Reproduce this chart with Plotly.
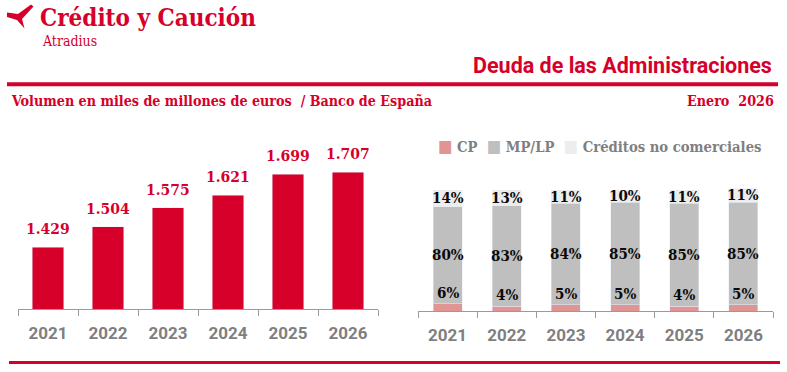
import plotly.graph_objects as go

years = ["2021", "2022", "2023", "2024", "2025", "2026"]
volumen = [1429, 1504, 1575, 1621, 1699, 1707]
volumen_labels = ["1.429", "1.504", "1.575", "1.621", "1.699", "1.707"]
cp = [6, 4, 5, 5, 4, 5]
mplp = [80, 83, 84, 85, 85, 85]
no_com = [14, 13, 11, 10, 11, 11]
series_names = ["CP", "MP/LP", "Créditos no comerciales"]

W, H = 787, 372
RED = "#D6002A"
GRAY_TXT = "#7F7F7F"
C_CP = "#E09494"
C_MP = "#BFBFBF"
C_NC = "#EDEDED"
series_colors = [C_CP, C_MP, C_NC]
SERIF = "DejaVu Serif Condensed, DejaVu Serif, serif"
SANS = "Roboto, Open Sans, sans-serif"


def px(x):
    return x / W


def py(y):
    return 1 - y / H


fig = go.Figure()

# Left chart: volume
fig.add_trace(go.Bar(x=years, y=volumen, marker_color=RED, width=0.52,
                     xaxis="x", yaxis="y", showlegend=False, hoverinfo="skip"))

# Right chart: stacked composition
for name, vals, col in zip(series_names, [cp, mplp, no_com], series_colors):
    fig.add_trace(go.Bar(x=years, y=vals, name=name, marker_color=col, width=0.49,
                         xaxis="x2", yaxis="y2", hoverinfo="skip", cliponaxis=False,
                         showlegend=False))

annotations = []
# value labels above left bars (x as category index)
for i, (v, lab) in enumerate(zip(volumen, volumen_labels)):
    annotations.append(dict(x=i, y=v, xref="x", yref="y", text=lab, showarrow=False,
                            yanchor="bottom", yshift=7,
                            font=dict(family=SERIF, size=15.5, color=RED, weight="bold")))
# percentage labels
lab_font = dict(family=SERIF, size=15, color="#0A0A0A", weight="bold")
for i, (a, b, c) in enumerate(zip(cp, mplp, no_com)):
    annotations.append(dict(x=i, y=a, xref="x2", yref="y2", text=f"{a}%", showarrow=False,
                            yanchor="bottom", yshift=0, font=lab_font))
    annotations.append(dict(x=i, y=a + b / 2, xref="x2", yref="y2", text=f"{b}%",
                            showarrow=False, yanchor="middle", font=lab_font))
    annotations.append(dict(x=i, y=a + b + c / 2, xref="x2", yref="y2", text=f"{c}%",
                            showarrow=False, yanchor="middle", font=lab_font))

# custom legend
legend_text = "&nbsp;&nbsp;".join(
    f"<span style='color:{col};font-size:17px'>■</span> {name}"
    for name, col in zip(series_names, series_colors))
annotations.append(dict(x=px(436), y=py(146), xref="paper", yref="paper", xanchor="left",
                        yanchor="middle", text=legend_text, showarrow=False,
                        font=dict(family=SERIF, size=14.7, color=GRAY_TXT, weight="bold")))

# Header texts
annotations += [
    dict(x=px(38), y=py(18), xref="paper", yref="paper", xanchor="left", yanchor="middle",
         text="Crédito y Caución", showarrow=False,
         font=dict(family=SERIF, size=24, color=RED, weight="bold")),
    dict(x=px(40), y=py(41), xref="paper", yref="paper", xanchor="left", yanchor="middle",
         text="Atradius", showarrow=False,
         font=dict(family=SERIF, size=14, color=RED)),
    dict(x=px(774), y=py(65), xref="paper", yref="paper", xanchor="right", yanchor="middle",
         text="Deuda de las Administraciones", showarrow=False,
         font=dict(family=SANS, size=21.5, color=RED, weight="bold")),
    dict(x=px(9), y=py(101), xref="paper", yref="paper", xanchor="left", yanchor="middle",
         text="Volumen en miles de millones de euros  / Banco de España", showarrow=False,
         font=dict(family=SERIF, size=14.2, color=RED, weight="bold")),
    dict(x=px(776), y=py(101), xref="paper", yref="paper", xanchor="right", yanchor="middle",
         text="Enero  2026", showarrow=False,
         font=dict(family=SERIF, size=14.2, color=RED, weight="bold")),
]

# Logo icon path (paper coords)
pts = [(7, 12.5), (18, 14), (31, 4.5), (33.5, 6.5), (22, 19), (24.5, 28.5), (17, 20), (7, 17)]
path = "M " + " L ".join(f"{px(x):.5f},{py(y):.5f}" for x, y in pts) + " Z"

shapes = [
    dict(type="path", path=path, xref="paper", yref="paper", fillcolor=RED, line_width=0),
    dict(type="line", xref="paper", yref="paper", x0=px(7), x1=px(778), y0=py(84.3), y1=py(84.3),
         line=dict(color=RED, width=4)),
    dict(type="line", xref="paper", yref="paper", x0=px(9), x1=px(780), y0=py(362.5), y1=py(362.5),
         line=dict(color=RED, width=3)),
]

xaxis_common = dict(type="category", range=[-0.5, 5.5], tickson="boundaries", ticks="outside",
                    ticklen=6, tickcolor="#9A9A9A", showline=True, linecolor="#9A9A9A",
                    linewidth=1, showgrid=False, zeroline=False, fixedrange=True,
                    ticklabelstandoff=9,
                    tickfont=dict(family=SANS, size=17, color=GRAY_TXT, weight="bold"))
yaxis_common = dict(visible=True, showticklabels=False, showgrid=False, zeroline=False,
                    showline=False, ticks="", fixedrange=True)

fig.update_layout(
    width=W, height=H,
    margin=dict(l=0, r=0, t=0, b=0, autoexpand=False),
    paper_bgcolor="white", plot_bgcolor="white",
    barmode="stack",
    xaxis=dict(domain=[px(18), px(378)], anchor="y", **xaxis_common),
    yaxis=dict(domain=[py(309), py(130)], range=[1200, 1200 + (309 - 130) * 3.707],
               anchor="x", **yaxis_common),
    xaxis2=dict(domain=[px(418), px(773)], anchor="y2", **xaxis_common),
    yaxis2=dict(domain=[py(311), py(150)], range=[0, 100 * (311 - 150) / 121],
                anchor="x2", **yaxis_common),
    annotations=annotations,
    shapes=shapes,
    showlegend=False,
)

fig.write_html("out.html", config={"displayModeBar": False},
               post_script="document.body.style.margin='0';document.body.style.overflow='hidden';")
